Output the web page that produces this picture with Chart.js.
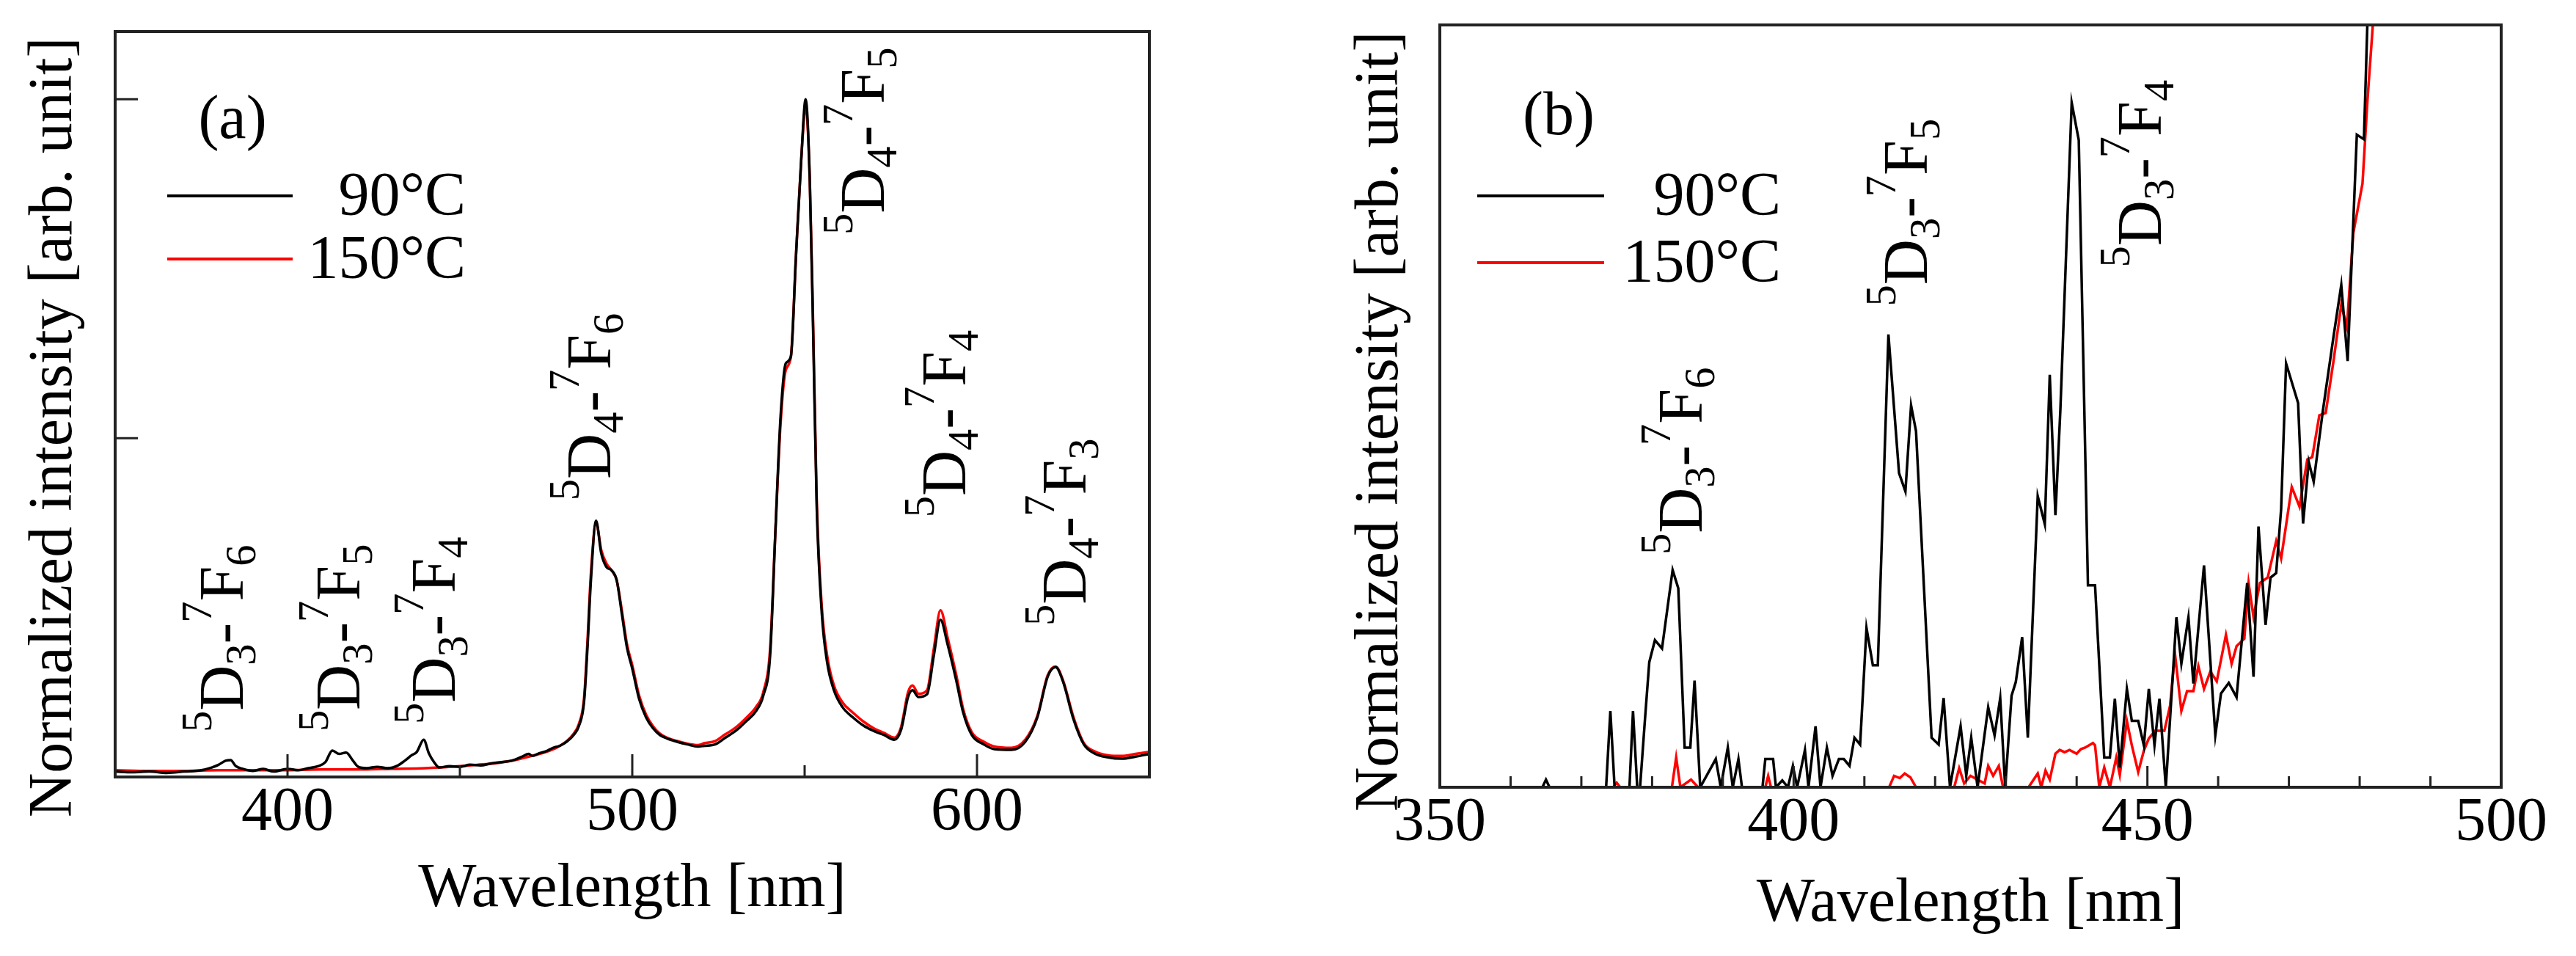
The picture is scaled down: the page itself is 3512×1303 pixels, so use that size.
<!DOCTYPE html>
<html lang="en">

<head>
    <meta charset="UTF-8">
    <title>Emission spectra 90°C / 150°C</title>
    <script src="https://cdn.jsdelivr.net/npm/chart.js"></script>
    <style>
        body { margin: 0; background: #fff; }
        #wrap { position: relative; width: 3512px; height: 1303px; }
        .panel { position: absolute; top: 0; width: 1756px; height: 1303px; }
    </style>
</head>

<body>
    <div id="wrap">
        <div class="panel" style="left:0"><canvas id="chartA"></canvas></div>
        <div class="panel" style="left:1756px"><canvas id="chartB"></canvas></div>
    </div>

    <script>
        // ---- panel (a): full spectra, normalized to the 550 nm peak ----
        const wl90A = [350, 355, 360, 365, 370, 375, 378, 380, 382, 383.5, 385, 387, 390, 393, 396, 400, 403, 406, 409, 411,
            413, 415, 417, 419, 420.5, 423, 426, 429, 432, 434, 436, 437.5, 439.5, 441, 442.5, 444, 447, 450, 453, 456,
            459, 462, 465, 468, 470, 471, 473, 475, 477, 479, 481, 483, 484.5, 486, 487, 488, 489.5, 491, 492.5, 494,
            495.5, 497, 498.5, 500, 502, 504, 506, 508, 510, 513, 516, 519, 521, 524, 527, 530, 533, 536, 538, 540,
            541.5, 543, 544.5, 546, 547.5, 549, 550.3, 551.5, 552.5, 553.5, 555, 556.5, 558.5, 561, 564, 567, 570, 573,
            576, 578, 580, 581.3, 583, 585.5, 587.5, 589.4, 591.5, 594, 596, 598.5, 602, 605, 610, 614, 617.5, 620.5,
            622.8, 625, 628, 631, 634, 638, 642, 646, 650];
        const int90A = [0.008, 0.007, 0.008, 0.006, 0.008, 0.010, 0.014, 0.018, 0.024, 0.025, 0.016, 0.012, 0.009, 0.012, 0.008, 0.012, 0.010, 0.013, 0.016, 0.022,
            0.039, 0.034, 0.036, 0.024, 0.015, 0.013, 0.015, 0.013, 0.017, 0.024, 0.032, 0.037, 0.055, 0.035, 0.022, 0.014, 0.016, 0.015, 0.018, 0.017,
            0.020, 0.022, 0.024, 0.030, 0.034, 0.031, 0.035, 0.038, 0.043, 0.046, 0.052, 0.062, 0.075, 0.110, 0.190, 0.290, 0.378, 0.330, 0.310, 0.305,
            0.290, 0.240, 0.190, 0.160, 0.115, 0.088, 0.072, 0.062, 0.057, 0.052, 0.048, 0.045, 0.046, 0.048, 0.058, 0.068, 0.082, 0.098, 0.120, 0.180,
            0.360, 0.530, 0.610, 0.620, 0.770, 0.910, 1.000, 0.880, 0.650, 0.400, 0.240, 0.170, 0.128, 0.103, 0.088, 0.076, 0.068, 0.062,
            0.055, 0.070, 0.118, 0.128, 0.118, 0.122, 0.180, 0.232, 0.195, 0.142, 0.095, 0.062, 0.048, 0.041, 0.040, 0.052, 0.088, 0.148,
            0.162, 0.140, 0.085, 0.048, 0.035, 0.029, 0.027, 0.030, 0.034];

        const wl150A = [350, 360, 370, 380, 390, 400, 410, 420, 430, 440, 450, 455, 460, 465, 470, 475, 478, 481, 483, 484.5,
            486, 487, 488, 489.5, 491, 492.5, 494, 495.5, 497, 498.5, 500, 502, 504, 506, 508, 510, 513, 516, 519, 521,
            524, 527, 530, 533, 536, 538, 540, 541.5, 543, 544.5, 546, 547.5, 549, 550.3, 551.5, 552.5, 553.5, 555, 556.5, 558.5,
            561, 564, 567, 570, 573, 576, 578, 580, 581.3, 583, 585.5, 587.5, 589.4, 591.5, 594, 596, 598.5, 602, 605, 610,
            614, 617.5, 620.5, 622.8, 625, 628, 631, 634, 638, 642, 646, 650];
        const int150A = [0.010, 0.009, 0.009, 0.010, 0.010, 0.010, 0.011, 0.011, 0.012, 0.013, 0.016, 0.018, 0.020, 0.024, 0.030, 0.037, 0.043, 0.053, 0.064, 0.078,
            0.115, 0.200, 0.300, 0.375, 0.335, 0.315, 0.305, 0.290, 0.245, 0.195, 0.165, 0.120, 0.092, 0.075, 0.064, 0.058, 0.053, 0.049, 0.047, 0.050,
            0.053, 0.063, 0.073, 0.087, 0.104, 0.125, 0.190, 0.360, 0.520, 0.600, 0.620, 0.770, 0.910, 0.990, 0.880, 0.660, 0.410, 0.250, 0.180, 0.135,
            0.110, 0.095, 0.082, 0.072, 0.065, 0.058, 0.074, 0.125, 0.135, 0.123, 0.128, 0.190, 0.246, 0.205, 0.150, 0.100, 0.066, 0.052, 0.045, 0.043,
            0.055, 0.090, 0.150, 0.163, 0.142, 0.088, 0.050, 0.038, 0.032, 0.031, 0.034, 0.037];

        const xTickLabelsA = [400, 500, 600];
        const xMinorTicksA = [450, 550];
        const yTicksA = [0.5, 1.0];
        const transitionsA = ['5D3-7F6', '5D3-7F5', '5D3-7F4', '5D4-7F6', '5D4-7F5', '5D4-7F4', '5D4-7F3'];

        // ---- panel (b): 350-500 nm zoom of the weak 5D3 lines ----
        const wl90B = [350, 364.5, 365, 365.5, 373.5, 374.1, 374.7, 376.8, 377.3, 377.9, 378.3, 379.0, 379.6, 380.4, 381.4, 382.9, 383.7, 384.6, 385.4, 386.0,
            386.8, 389.0, 389.7, 390.7, 391.4, 392.2, 392.7, 395.6, 396.0, 397.1, 397.5, 398.4, 399.2, 399.9, 400.5, 401.6, 402.1, 403.1, 403.8, 404.7,
            405.5, 406.4, 407.1, 407.9, 408.6, 409.4, 410.3, 411.2, 411.9, 413.4, 414.9, 415.8, 416.6, 417.3, 419.5, 420.5, 421.2, 422.1, 423.6, 424.4,
            425.1, 426.0, 427.5, 428.4, 429.2, 429.9, 430.8, 431.4, 432.3, 433.1, 434.5, 435.5, 436.2, 437.0, 437.7, 439.3, 440.3, 441.6, 442.6, 443.9,
            444.7, 445.4, 446.1, 447.1, 447.8, 448.7, 449.5, 450.2, 451.0, 451.7, 452.6, 454.1, 454.8, 455.8, 456.5, 458.0, 459.6, 460.4, 461.5, 462.6,
            464.1, 465.0, 465.7, 466.7, 467.4, 468.2, 468.9, 469.6, 471.3, 472.0, 472.8, 473.5, 474.8, 476.3, 477.4, 478.3, 479.6, 480.6, 481.1, 482.0];
        const int90B = [0, 0, 1, 0, 0, 10, 0, 0, 10, 0, 0, 9, 16.4, 19.3, 18.2, 28.5, 26.1, 5.2, 5.2, 14.0,
            0, 3.7, 0, 5.2, 0, 3.7, 0, 0, 3.7, 3.7, 0, 0.9, 0, 2.8, 0, 4.9, 0, 8.0, 0, 5.2,
            1.5, 3.7, 3.7, 2.8, 6.5, 5.6, 20.9, 16.0, 16.0, 59.4, 41.2, 38.8, 50.1, 46.7, 6.5, 5.6, 11.7, 0, 8.0, 1.5,
            6.5, 0, 10.5, 6.8, 11.7, 0, 12.0, 13.8, 19.7, 6.5, 38.2, 34.5, 54.1, 35.7, 49.5, 89.8, 84.9, 26.5, 26.5, 3.9,
            3.9, 11.6, 2.6, 12.9, 8.7, 8.7, 5.5, 12.9, 5.5, 11.6, 0, 22.3, 16.2, 22.3, 13.6, 29.1, 6.8, 12.3, 13.7, 11.8,
            26.8, 14.5, 34.2, 21.3, 27.5, 28.1, 36.5, 55.6, 50.4, 34.6, 42.7, 40.1, 49.4, 59.1, 65.9, 55.9, 85.6, 85.0, 100.5, 140];

        const wl150B = [350, 374.5, 375.0, 375.5, 382.8, 383.4, 384.0, 385.5, 386.5, 396.0, 396.4, 396.8, 413.5, 414.2, 415.0, 415.7, 416.5, 417.3, 422.7, 423.4,
            424.1, 425.0, 427.0, 427.5, 428.2, 429.0, 429.6, 433.2, 434.5, 435.0, 435.6, 436.2, 437.0, 437.6, 438.3, 439.0, 440.0, 440.6, 441.2, 442.3,
            442.6, 443.2, 443.9, 444.7, 445.6, 446.1, 447.1, 447.8, 448.7, 449.5, 450.2, 451.1, 452.4, 453.2, 453.9, 454.8, 455.6, 456.5, 457.2, 458.0,
            458.9, 459.8, 461.1, 461.9, 462.6, 463.7, 464.3, 465.0, 465.9, 467.0, 468.2, 468.9, 470.4, 471.5, 472.6, 473.3, 474.3, 475.2, 476.3, 477.4,
            478.2, 479.1, 480.4, 481.1, 481.9, 483.0];
        const int150B = [0, 0, 0.6, 0, 0, 3.9, 0, 1.0, 0, 0, 1.5, 0, 0, 1.5, 1.2, 1.8, 1.3, 0, 0, 2.5,
            0.5, 1.5, 0.5, 2.8, 1.5, 2.8, 0, 0, 1.8, 0, 2.2, 1.0, 4.4, 4.9, 4.6, 4.9, 4.4, 5.0, 5.2, 5.8,
            5.5, 0, 2.6, 0, 3.9, 1.6, 8.7, 5.5, 2.0, 4.8, 6.4, 7.4, 7.4, 10.7, 17.5, 10.0, 12.6, 12.6, 15.9, 12.9,
            15.2, 13.9, 20.0, 16.2, 18.5, 19.5, 26.8, 22.3, 26.8, 27.5, 32.3, 30.0, 39.4, 36.8, 43.0, 43.3, 48.8, 49.1, 55.9, 63.3,
            60.4, 72.7, 79.2, 90.1, 100.5, 140];

        const xTickLabelsB = [350, 400, 450, 500];
        const xMinorTicksB = [360, 370, 380, 390, 410, 420, 430, 440, 460, 470, 480, 490];
        const transitionsB = ['5D3-7F6', '5D3-7F5', '5D3-7F4'];

        const seriesNames = ['90°C', '150°C'];
        const seriesColors = ['#000000', '#ff0000'];

        const FONT = "'Liberation Serif', 'Times New Roman', serif";
        Chart.defaults.font.family = FONT;
        Chart.defaults.color = '#000';

        function toPoints(xs, ys) {
            return xs.map((x, i) => ({ x: x, y: ys[i] }));
        }

        // term symbol like 5D3-7F6: superscript, letter, subscript, dash, superscript, letter, subscript
        function drawTerm(ctx, px, py, term, size) {
            const kinds = ['sup', 'main', 'sub', 'main', 'sup', 'main', 'sub'];
            ctx.save();
            ctx.translate(px, py);
            ctx.rotate(-Math.PI / 2);
            ctx.textAlign = 'left';
            ctx.textBaseline = 'alphabetic';
            ctx.fillStyle = '#000';
            let cx = 0;
            term.split('').forEach((ch, i) => {
                const k = kinds[i];
                const s = k === 'main' ? size : size * 0.68;
                const dy = k === 'sup' ? -size * 0.5 : (k === 'sub' ? size * 0.2 : 0);
                ctx.font = s + 'px ' + FONT;
                ctx.fillText(ch, cx, dy);
                cx += ctx.measureText(ch).width;
            });
            ctx.restore();
        }

        const panelDecor = {
            id: 'panelDecor',
            afterDatasetsDraw(chart, args, opts) {
                const { ctx, chartArea: a, scales: { x, y } } = chart;
                ctx.save();
                ctx.strokeStyle = '#222';
                ctx.lineWidth = 3;
                ctx.beginPath();
                x.ticks.forEach(t => {
                    const px = x.getPixelForValue(t.value);
                    ctx.moveTo(px, a.bottom);
                    ctx.lineTo(px, a.bottom - opts.majorLen);
                });
                opts.minorX.forEach(v => {
                    const px = x.getPixelForValue(v);
                    ctx.moveTo(px, a.bottom);
                    ctx.lineTo(px, a.bottom - opts.minorLen);
                });
                if (opts.yTicks) {
                    y.ticks.forEach(t => {
                        const py = y.getPixelForValue(t.value);
                        ctx.moveTo(a.left, py);
                        ctx.lineTo(a.left + opts.majorLen, py);
                    });
                }
                ctx.stroke();
                ctx.lineWidth = 4;
                ctx.strokeRect(a.left, a.top, a.right - a.left, a.bottom - a.top);

                // panel tag and legend
                ctx.fillStyle = '#000';
                ctx.font = '84px ' + FONT;
                ctx.textAlign = 'center';
                ctx.textBaseline = 'middle';
                ctx.fillText(opts.tag, a.left + opts.tagX, opts.tagY);
                chart.data.datasets.forEach((ds, i) => {
                    const ly = opts.legendY[i];
                    ctx.strokeStyle = ds.borderColor;
                    ctx.lineWidth = 4;
                    ctx.beginPath();
                    ctx.moveTo(a.left + opts.legendX0, ly);
                    ctx.lineTo(a.left + opts.legendX1, ly);
                    ctx.stroke();
                    ctx.textAlign = 'right';
                    ctx.fillText(ds.label, a.left + opts.legendTextX, ly + 4);
                });

                // transition labels, anchored in data coordinates
                opts.terms.forEach((term, i) => {
                    const [wl, v] = opts.termAt[i];
                    drawTerm(ctx, x.getPixelForValue(wl), y.getPixelForValue(v), term, 86);
                });
                ctx.restore();
            }
        };

        function axisTitle(text, pad) {
            return { display: true, text: text, font: { size: 84, lineHeight: 1 }, color: '#000', padding: pad };
        }

        function makeChart(id, cfg) {
            return new Chart(document.getElementById(id).getContext('2d'), {
                type: 'line',
                data: {
                    datasets: [0, 1].map(i => ({
                        label: seriesNames[i],
                        data: cfg.series[i],
                        borderColor: seriesColors[i],
                        borderWidth: 3.5,
                        pointRadius: 0,
                        tension: 0,
                        cubicInterpolationMode: cfg.smooth ? 'monotone' : 'default'
                    }))
                },
                options: {
                    responsive: true,
                    maintainAspectRatio: false,
                    animation: false,
                    events: [],
                    layout: { padding: cfg.padding },
                    scales: {
                        x: {
                            type: 'linear', min: cfg.xMin, max: cfg.xMax,
                            afterBuildTicks: s => { s.ticks = cfg.xTicks.map(v => ({ value: v })); },
                            afterFit: s => { s.height = cfg.xHeight; },
                            grid: { display: false, drawTicks: false },
                            border: { display: false },
                            ticks: { font: { size: 84, lineHeight: 1 }, color: '#000', padding: 8, maxRotation: 0, autoSkip: false },
                            title: axisTitle('Wavelength [nm]', { top: 0, bottom: cfg.xTitlePad })
                        },
                        y: {
                            min: 0, max: cfg.yMax,
                            afterBuildTicks: s => { if (cfg.yTicks) s.ticks = cfg.yTicks.map(v => ({ value: v })); },
                            afterFit: s => { s.width = cfg.yWidth; },
                            grid: { display: false, drawTicks: false },
                            border: { display: false },
                            ticks: { display: false },
                            title: axisTitle('Normalized intensity [arb. unit]' + cfg.yTitleTail, { top: cfg.yTitlePad, bottom: 0 })
                        }
                    },
                    plugins: {
                        legend: { display: false },
                        tooltip: { enabled: false },
                        panelDecor: cfg.decor
                    }
                },
                plugins: [panelDecor]
            });
        }

        makeChart('chartA', {
            series: [toPoints(wl90A, int90A), toPoints(wl150A, int150A)],
            smooth: true,
            padding: { top: 43, right: 189, left: 0, bottom: 0 },
            xMin: 350, xMax: 650, xTicks: xTickLabelsA, xHeight: 244, xTitlePad: 48,
            yMax: 1.1, yTicks: yTicksA, yWidth: 157, yTitlePad: 33, yTitleTail: '   ',
            decor: {
                majorLen: 31, minorLen: 16, minorX: xMinorTicksA, yTicks: true,
                tag: '(a)', tagX: 160, tagY: 166,
                legendX0: 71, legendX1: 242, legendTextX: 478, legendY: [267, 353],
                terms: transitionsA,
                termAt: [[387.0, 0.066], [420.9, 0.067], [448.5, 0.078], [493.6, 0.408], [573.0, 0.80], [596.6, 0.383], [631.5, 0.223]]
            }
        });

        makeChart('chartB', {
            series: [toPoints(wl90B, int90B), toPoints(wl150B, int150B)],
            smooth: false,
            padding: { top: 34, right: 102, left: 0, bottom: 0 },
            xMin: 350, xMax: 500, xTicks: xTickLabelsB, xHeight: 230, xTitlePad: 28,
            yMax: 100, yTicks: null, yWidth: 207, yTitlePad: 85, yTitleTail: '  ',
            decor: {
                majorLen: 29, minorLen: 15, minorX: xMinorTicksB, yTicks: false,
                tag: '(b)', tagX: 162, tagY: 161,
                legendX0: 51, legendX1: 224, legendTextX: 465, legendY: [267, 358],
                terms: transitionsB,
                termAt: [[387.0, 30.5], [418.8, 63.1], [451.9, 68.2]]
            }
        });
    </script>
</body>

</html>
